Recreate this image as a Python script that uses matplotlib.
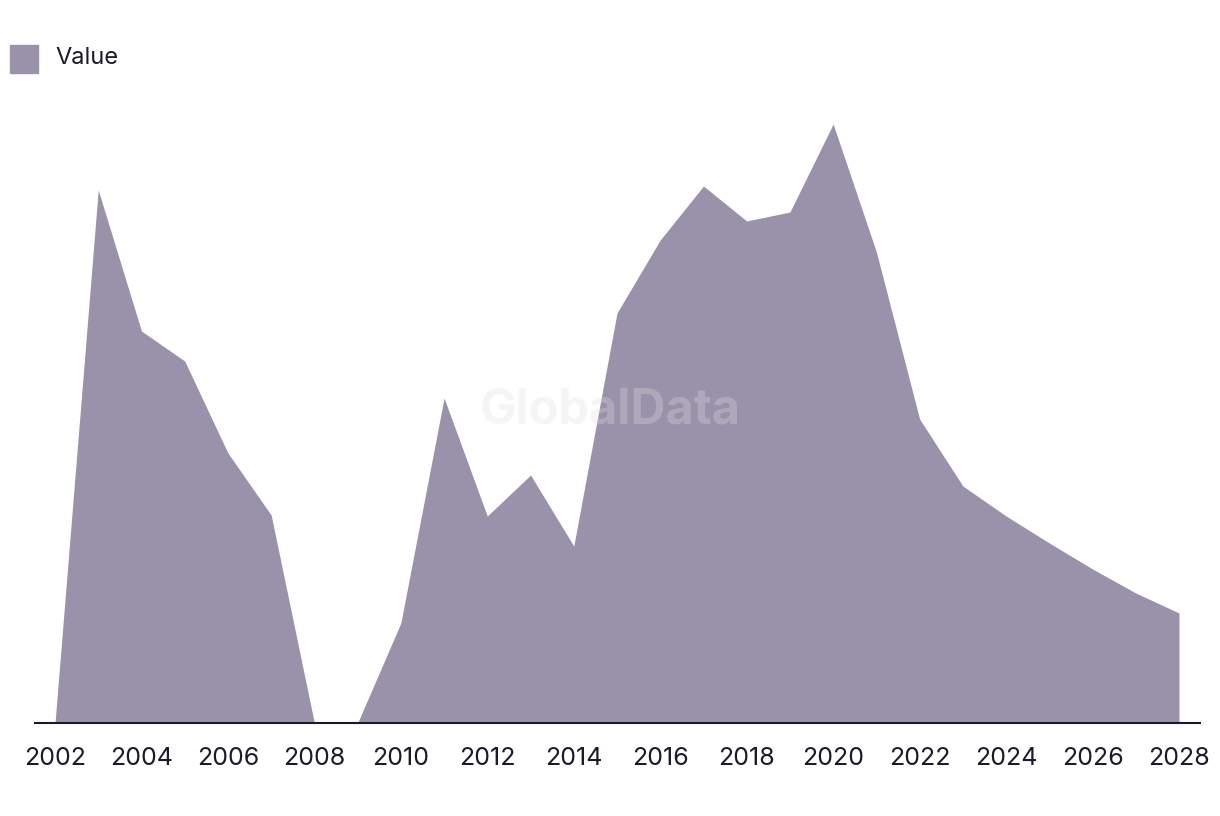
import matplotlib
matplotlib.use("Agg")
import matplotlib.pyplot as plt

years = list(range(2002, 2029))
values = [0, 533, 392, 362, 270, 208, 0, 0, 100, 325, 207, 248, 177, 410,
          483, 537, 502, 511, 599, 471, 304, 237, 207, 180, 154, 130, 110]
tick_years = list(range(2002, 2029, 2))

fill_color = "#9a91aa"
text_color = "#1a1a2e"

plt.rcParams['font.family'] = ['Inter', 'DejaVu Sans']

fig = plt.figure(figsize=(12.2, 8.16), dpi=100)
ax = fig.add_axes([35/1220, 93/816, (1200-35)/1220, (723-100)/816])
ax.fill_between(years, values, 0, color=fill_color, linewidth=0)
ax.set_xlim(2002 - 20/43.23, 2028 + 21/43.23)
ax.set_ylim(0, 623)
ax.set_xticks(tick_years)
ax.set_xticklabels([str(y) for y in tick_years], fontsize=18, color=text_color)
ax.tick_params(axis='x', length=0, pad=17)
ax.set_yticks([])
for s in ['top', 'right', 'left']:
    ax.spines[s].set_visible(False)
ax.spines['bottom'].set_color(text_color)
ax.spines['bottom'].set_linewidth(1.5)

fig.text(610/1220, 1 - 410/816, "GlobalData", ha='center', va='center',
         fontsize=35, fontweight='bold', color='#e0e0e0', alpha=0.3, zorder=5)

# legend
fig.patches.append(plt.Rectangle((10/1220, 1 - 73/816), 28/1220, 28/816,
                                 transform=fig.transFigure, color=fill_color))
fig.text(55/1220, 1 - 58/816, "Value", fontsize=17, color=text_color, va='center', ha='left')

fig.savefig("out.png", dpi=100)
